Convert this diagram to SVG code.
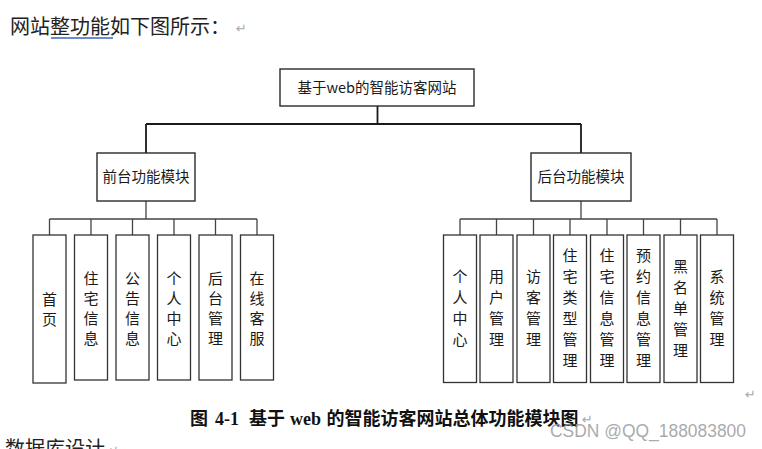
<svg xmlns="http://www.w3.org/2000/svg" width="762" height="449" viewBox="0 0 762 449">
<style>
.bg{fill:#ffffff}
.box{fill:#ffffff;stroke:#2a2a2a;stroke-width:1.4}
.cbox{fill:#ffffff;stroke:#333333;stroke-width:1.3}
.lbl{font-family:"Noto Sans CJK SC","Microsoft YaHei",sans-serif;fill:#1a1a1a;text-anchor:middle}
.t1{font-size:14.5px}
.t2{font-size:14.5px}
.tv{font-size:15px}
.main{fill:none;stroke:#1a1a1a;stroke-width:1.8}
.sub{fill:none;stroke:#444444;stroke-width:1.3}
.doc{font-family:"Noto Sans CJK SC",sans-serif;fill:#222222;font-size:20px}
.ret{font-family:"DejaVu Sans",sans-serif;fill:#a8a8a8;font-size:13px}
.cap{font-family:"Liberation Serif","Noto Sans CJK SC",serif;font-weight:bold;font-size:18px;fill:#111111}
.wm{font-family:"Liberation Sans","Noto Sans",sans-serif;font-size:18px;fill:#9a9a9a;fill-opacity:0.85}
</style>
<rect class="bg" x="0" y="0" width="762" height="449"/>

<g id="heading">
<text class="doc" x="10" y="34">网站整功能如下图所示：</text>
<line x1="51" y1="38" x2="113" y2="38" stroke="#3d62c9" stroke-width="1.3"/>
<text class="ret" x="236" y="33">↵</text>
</g>

<g id="connectors">
<path class="main" d="M377.5 106 V124 M146 124 H581 M146 124 V153 M581 124 V153"/>
<path class="sub" d="M146 201 V219 M49.5 219 H257 M49.5 219 V235 M91 219 V235 M132.5 219 V235 M174 219 V235 M215.5 219 V235 M257 219 V235"/>
<path class="sub" d="M581 201 V219 M460 219 H717 M460 219 V235 M496.5 219 V235 M533.5 219 V235 M570 219 V235 M607 219 V235 M643.5 219 V235 M680.5 219 V235 M717 219 V235"/>
</g>

<g id="root">
<rect class="box" x="280" y="69" width="194" height="37"/>
<text class="lbl t1" x="377" y="93">基于web的智能访客网站</text>
</g>

<g id="front">
<rect class="box" x="97" y="153" width="98" height="48"/>
<text class="lbl t2" x="146" y="182">前台功能模块</text>
</g>

<g id="back">
<rect class="box" x="531" y="153" width="100" height="48"/>
<text class="lbl t2" x="581" y="182">后台功能模块</text>
</g>

<g id="f1">
<rect class="cbox" x="33" y="235" width="33" height="148"/>
<text class="lbl tv"><tspan x="49.5" y="304.5">首</tspan><tspan x="49.5" y="324.5">页</tspan></text>
</g>
<g id="f2">
<rect class="cbox" x="74.5" y="235" width="33" height="145"/>
<text class="lbl tv"><tspan x="91" y="283.5">住</tspan><tspan x="91" y="303.5">宅</tspan><tspan x="91" y="323.5">信</tspan><tspan x="91" y="343.5">息</tspan></text>
</g>
<g id="f3">
<rect class="cbox" x="116" y="235" width="33" height="145"/>
<text class="lbl tv"><tspan x="132.5" y="283.5">公</tspan><tspan x="132.5" y="303.5">告</tspan><tspan x="132.5" y="323.5">信</tspan><tspan x="132.5" y="343.5">息</tspan></text>
</g>
<g id="f4">
<rect class="cbox" x="157.5" y="235" width="33" height="145"/>
<text class="lbl tv"><tspan x="174" y="283.5">个</tspan><tspan x="174" y="303.5">人</tspan><tspan x="174" y="323.5">中</tspan><tspan x="174" y="343.5">心</tspan></text>
</g>
<g id="f5">
<rect class="cbox" x="199" y="235" width="33" height="145"/>
<text class="lbl tv"><tspan x="215.5" y="283.5">后</tspan><tspan x="215.5" y="303.5">台</tspan><tspan x="215.5" y="323.5">管</tspan><tspan x="215.5" y="343.5">理</tspan></text>
</g>
<g id="f6">
<rect class="cbox" x="240.5" y="235" width="33" height="145"/>
<text class="lbl tv"><tspan x="257" y="283.5">在</tspan><tspan x="257" y="303.5">线</tspan><tspan x="257" y="323.5">客</tspan><tspan x="257" y="343.5">服</tspan></text>
</g>

<g id="b1">
<rect class="cbox" x="443.5" y="235" width="33" height="147.5"/>
<text class="lbl tv"><tspan x="460" y="282">个</tspan><tspan x="460" y="303">人</tspan><tspan x="460" y="324">中</tspan><tspan x="460" y="345">心</tspan></text>
</g>
<g id="b2">
<rect class="cbox" x="480" y="235" width="33" height="147.5"/>
<text class="lbl tv"><tspan x="496.5" y="282">用</tspan><tspan x="496.5" y="303">户</tspan><tspan x="496.5" y="324">管</tspan><tspan x="496.5" y="345">理</tspan></text>
</g>
<g id="b3">
<rect class="cbox" x="517" y="235" width="33" height="147.5"/>
<text class="lbl tv"><tspan x="533.5" y="282">访</tspan><tspan x="533.5" y="303">客</tspan><tspan x="533.5" y="324">管</tspan><tspan x="533.5" y="345">理</tspan></text>
</g>
<g id="b4">
<rect class="cbox" x="553.5" y="235" width="33" height="147.5"/>
<text class="lbl tv"><tspan x="570" y="261">住</tspan><tspan x="570" y="282">宅</tspan><tspan x="570" y="303">类</tspan><tspan x="570" y="324">型</tspan><tspan x="570" y="345">管</tspan><tspan x="570" y="366">理</tspan></text>
</g>
<g id="b5">
<rect class="cbox" x="590.5" y="235" width="33" height="147.5"/>
<text class="lbl tv"><tspan x="607" y="261">住</tspan><tspan x="607" y="282">宅</tspan><tspan x="607" y="303">信</tspan><tspan x="607" y="324">息</tspan><tspan x="607" y="345">管</tspan><tspan x="607" y="366">理</tspan></text>
</g>
<g id="b6">
<rect class="cbox" x="627" y="235" width="33" height="147.5"/>
<text class="lbl tv"><tspan x="643.5" y="261">预</tspan><tspan x="643.5" y="282">约</tspan><tspan x="643.5" y="303">信</tspan><tspan x="643.5" y="324">息</tspan><tspan x="643.5" y="345">管</tspan><tspan x="643.5" y="366">理</tspan></text>
</g>
<g id="b7">
<rect class="cbox" x="664" y="235" width="33" height="147.5"/>
<text class="lbl tv"><tspan x="680.5" y="271.5">黑</tspan><tspan x="680.5" y="292.5">名</tspan><tspan x="680.5" y="313.5">单</tspan><tspan x="680.5" y="334.5">管</tspan><tspan x="680.5" y="355.5">理</tspan></text>
</g>
<g id="b8">
<rect class="cbox" x="700.5" y="235" width="33" height="147.5"/>
<text class="lbl tv"><tspan x="717" y="282">系</tspan><tspan x="717" y="303">统</tspan><tspan x="717" y="324">管</tspan><tspan x="717" y="345">理</tspan></text>
</g>

<g id="caption">
<text class="ret" x="745" y="399">↵</text>
<text class="cap" y="425"><tspan x="190">图</tspan> <tspan x="215">4-1</tspan> <tspan x="249">基于</tspan> <tspan x="290">web</tspan> <tspan x="326.5">的智能访客网站总体功能模块图</tspan></text>
<text class="ret" x="582" y="424">↵</text>
<text class="wm" x="550" y="437" textLength="196" lengthAdjust="spacingAndGlyphs">CSDN @QQ_188083800</text>
</g>

<g id="next">
<text class="doc" x="5" y="456">数据库设计</text>
<text class="ret" x="108" y="455">↵</text>
</g>
</svg>
